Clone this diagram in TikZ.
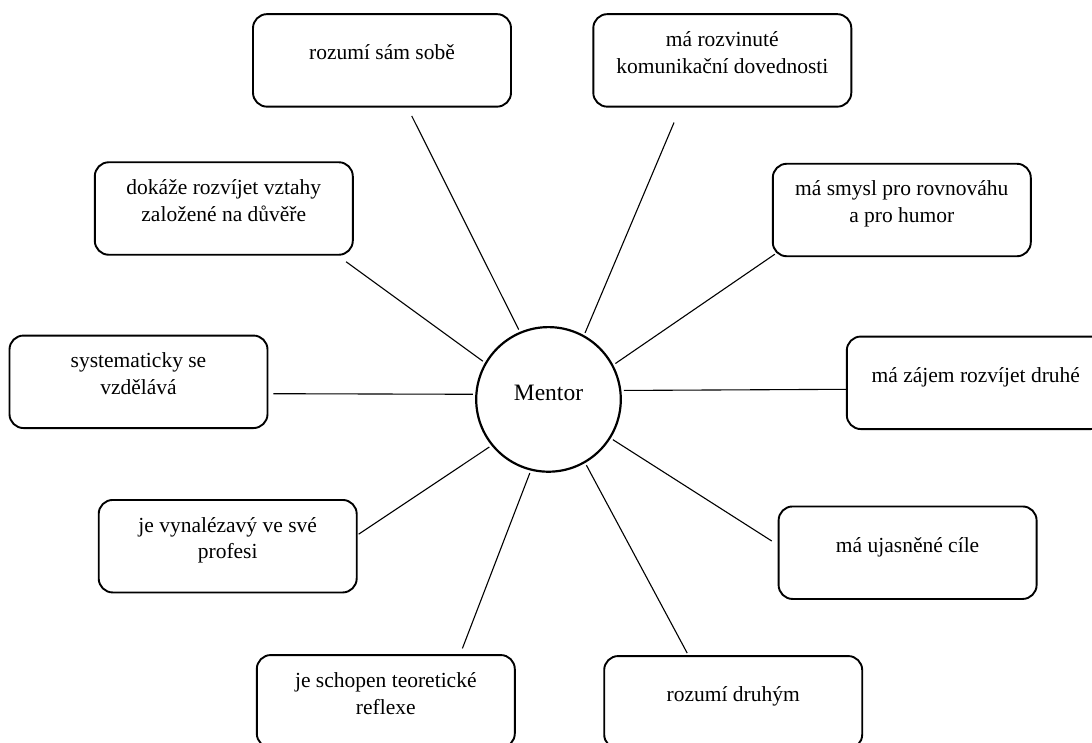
\documentclass[tikz,border=0pt]{standalone}
\usepackage{fontspec}
\setmainfont{Liberation Serif}

\newcommand{\boxfont}{\fontsize{21.5}{26.7}\selectfont}
\newcommand{\boxtext}[1]{\parbox[c][92.5pt][c]{250pt}{\centering\strut #1\strut\par\vspace{12pt}}}

\begin{document}
\begin{tikzpicture}[x=1pt, y=-1pt,
  box/.style={draw, line width=1.9pt, rounded corners=14pt, minimum width=258pt, inner sep=0pt, font=\boxfont},
  hub/.style={draw, circle, line width=2.2pt, minimum size=144.6pt, inner sep=0pt,
    font=\fontsize{23.5}{28}\selectfont, text height=10pt, text depth=7.4pt},
  link/.style={line width=1.1pt, shorten <=2.5pt}]

\useasboundingbox (0,0) rectangle (1092,742);
\clip (0,0) rectangle (1092,742);

\node[hub] (mentor) at (548.5,399.4) {Mentor};

\node[box] (b1) at (382,60.4) {\boxtext{rozumí sám sobě}};
\node[box] (b2) at (722.3,60.4) {\boxtext{má rozvinuté\\komunikační dovednosti}};
\node[box] (b3) at (223.8,208.5) {\boxtext{dokáže rozvíjet vztahy\\založené na důvěře}};
\node[box] (b4) at (901.8,210) {\boxtext{má smysl pro rovnováhu\\a pro humor}};
\node[box] (b5) at (138.5,381.8) {\boxtext{systematicky se\\vzdělává}};
\node[box] (b6) at (975.8,382.8) {\boxtext{má zájem rozvíjet druhé}};
\node[box] (b7) at (227.7,546.2) {\boxtext{je vynalézavý ve své\\profesi}};
\node[box] (b8) at (907.6,552.7) {\boxtext{má ujasněné cíle}};
\node[box] (b9) at (385.8,701.3) {\boxtext{je schopen teoretické\\reflexe}};
\node[box] (b10) at (733.2,702.3) {\boxtext{rozumí druhým}};

% spokes from the hub
\draw[link] (mentor.113) -- ([shift={(29.7,8.3)}]b1.south);
\draw[link] (mentor.61) -- ([shift={(-48.3,15)}]b2.south);
\draw[link] (mentor.150) -- ([shift={(-7.7,6)}]b3.south east);
\draw[link] (mentor.28) -- ([shift={(3,-3)}]b4.south west);
\draw[link] (mentor.176) -- ([shift={(5,11.9)}]b5.east);
\draw[link] (mentor.7) -- ([shift={(0,6.5)}]b6.west);
\draw[link] (mentor.219) -- ([shift={(1,-12)}]b7.east);
\draw[link] (mentor.328) -- ([shift={(-5.9,-11.7)}]b8.west);
\draw[link] (mentor.256) -- ([shift={(76.6,-5.7)}]b9.north);
\draw[link] (mentor.300) -- ([shift={(-46,-2)}]b10.north);

\end{tikzpicture}
\end{document}
